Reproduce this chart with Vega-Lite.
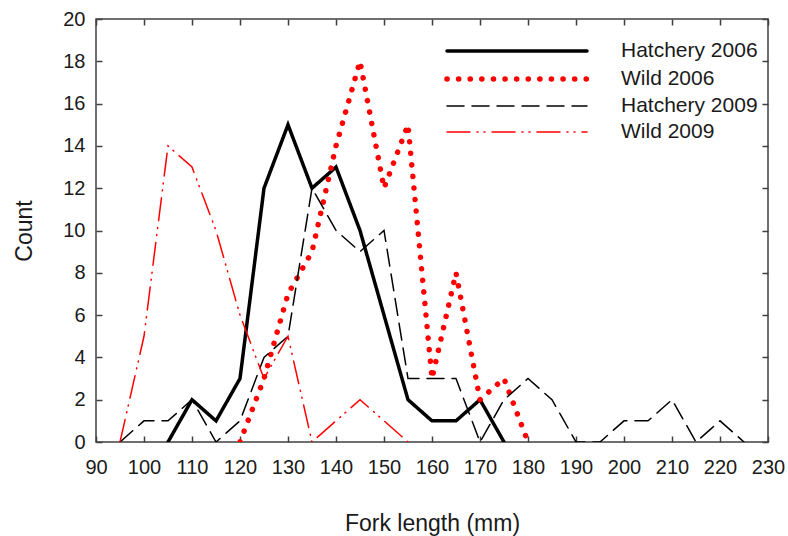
{
  "$schema": "https://vega.github.io/schema/vega-lite/v6.json",
  "width": 672,
  "height": 423,
  "autosize": {"type": "none"},
  "padding": {"left": 96, "top": 19, "right": 20, "bottom": 94},
  "background": "white",
  "config": {
    "view": {"stroke": "#404040", "strokeWidth": 1.5},
    "font": "Liberation Sans",
    "axis": {
      "domain": false,
      "grid": false,
      "tickSize": -6,
      "tickWidth": 1.5,
      "tickColor": "#404040",
      "labelOverlap": false,
      "labelFlush": false,
      "labelFont": "Liberation Sans",
      "labelFontSize": 20,
      "labelColor": "#1a1a1a",
      "titleFont": "Liberation Sans",
      "titleFontSize": 23,
      "titleFontWeight": "normal",
      "titleColor": "#1a1a1a"
    }
  },
  "data": {
    "values": [
      {"series": "Hatchery 2006", "x": 105, "y": 0},
      {"series": "Hatchery 2006", "x": 110, "y": 2},
      {"series": "Hatchery 2006", "x": 115, "y": 1},
      {"series": "Hatchery 2006", "x": 120, "y": 3},
      {"series": "Hatchery 2006", "x": 125, "y": 12},
      {"series": "Hatchery 2006", "x": 130, "y": 15},
      {"series": "Hatchery 2006", "x": 135, "y": 12},
      {"series": "Hatchery 2006", "x": 140, "y": 13},
      {"series": "Hatchery 2006", "x": 145, "y": 10},
      {"series": "Hatchery 2006", "x": 150, "y": 6},
      {"series": "Hatchery 2006", "x": 155, "y": 2},
      {"series": "Hatchery 2006", "x": 160, "y": 1},
      {"series": "Hatchery 2006", "x": 165, "y": 1},
      {"series": "Hatchery 2006", "x": 170, "y": 2},
      {"series": "Hatchery 2006", "x": 175, "y": 0},
      {"series": "Wild 2006", "x": 120, "y": 0},
      {"series": "Wild 2006", "x": 125, "y": 3},
      {"series": "Wild 2006", "x": 130, "y": 7},
      {"series": "Wild 2006", "x": 135, "y": 9},
      {"series": "Wild 2006", "x": 140, "y": 14},
      {"series": "Wild 2006", "x": 145, "y": 18},
      {"series": "Wild 2006", "x": 150, "y": 12},
      {"series": "Wild 2006", "x": 155, "y": 15},
      {"series": "Wild 2006", "x": 160, "y": 3},
      {"series": "Wild 2006", "x": 165, "y": 8},
      {"series": "Wild 2006", "x": 170, "y": 2},
      {"series": "Wild 2006", "x": 175, "y": 3},
      {"series": "Wild 2006", "x": 180, "y": 0},
      {"series": "Hatchery 2009", "x": 95, "y": 0},
      {"series": "Hatchery 2009", "x": 100, "y": 1},
      {"series": "Hatchery 2009", "x": 105, "y": 1},
      {"series": "Hatchery 2009", "x": 110, "y": 2},
      {"series": "Hatchery 2009", "x": 115, "y": 0},
      {"series": "Hatchery 2009", "x": 120, "y": 1},
      {"series": "Hatchery 2009", "x": 125, "y": 4},
      {"series": "Hatchery 2009", "x": 130, "y": 5},
      {"series": "Hatchery 2009", "x": 135, "y": 12},
      {"series": "Hatchery 2009", "x": 140, "y": 10},
      {"series": "Hatchery 2009", "x": 145, "y": 9},
      {"series": "Hatchery 2009", "x": 150, "y": 10},
      {"series": "Hatchery 2009", "x": 155, "y": 3},
      {"series": "Hatchery 2009", "x": 160, "y": 3},
      {"series": "Hatchery 2009", "x": 165, "y": 3},
      {"series": "Hatchery 2009", "x": 170, "y": 0},
      {"series": "Hatchery 2009", "x": 175, "y": 2},
      {"series": "Hatchery 2009", "x": 180, "y": 3},
      {"series": "Hatchery 2009", "x": 185, "y": 2},
      {"series": "Hatchery 2009", "x": 190, "y": 0},
      {"series": "Hatchery 2009", "x": 195, "y": 0},
      {"series": "Hatchery 2009", "x": 200, "y": 1},
      {"series": "Hatchery 2009", "x": 205, "y": 1},
      {"series": "Hatchery 2009", "x": 210, "y": 2},
      {"series": "Hatchery 2009", "x": 215, "y": 0},
      {"series": "Hatchery 2009", "x": 220, "y": 1},
      {"series": "Hatchery 2009", "x": 225, "y": 0},
      {"series": "Wild 2009", "x": 95, "y": 0},
      {"series": "Wild 2009", "x": 100, "y": 5},
      {"series": "Wild 2009", "x": 105, "y": 14},
      {"series": "Wild 2009", "x": 110, "y": 13},
      {"series": "Wild 2009", "x": 115, "y": 10},
      {"series": "Wild 2009", "x": 120, "y": 6},
      {"series": "Wild 2009", "x": 125, "y": 3},
      {"series": "Wild 2009", "x": 130, "y": 5},
      {"series": "Wild 2009", "x": 135, "y": 0},
      {"series": "Wild 2009", "x": 140, "y": 1},
      {"series": "Wild 2009", "x": 145, "y": 2},
      {"series": "Wild 2009", "x": 150, "y": 1},
      {"series": "Wild 2009", "x": 155, "y": 0}
    ]
  },
  "layer": [
    {
      "mark": {"type": "line", "strokeCap": "round", "strokeJoin": "miter", "clip": true},
      "encoding": {
        "x": {
          "field": "x", "type": "quantitative",
          "scale": {"domain": [90, 230], "nice": false, "zero": false},
          "axis": {"orient": "bottom", "values": [90,100,110,120,130,140,150,160,170,180,190,200,210,220,230], "labelPadding": 21, "title": "Fork length (mm)", "titlePadding": 35}
        },
        "y": {
          "field": "y", "type": "quantitative",
          "scale": {"domain": [0, 20], "nice": false},
          "axis": {"orient": "left", "values": [0,2,4,6,8,10,12,14,16,18,20], "labelPadding": 17, "title": "Count", "titlePadding": 26}
        },
        "color": {
          "field": "series", "type": "nominal",
          "scale": {"domain": ["Hatchery 2006", "Wild 2006", "Hatchery 2009", "Wild 2009"], "range": ["#000000", "#ff0000", "#000000", "#ff0000"]},
          "legend": {
            "title": null,
            "orient": "none",
            "legendX": 348,
            "legendY": 20,
            "padding": 0,
            "symbolType": "M-1,0H13",
            "symbolSize": 400,
            "labelFont": "Liberation Sans",
            "labelFontSize": 21,
            "labelColor": "#1a1a1a",
            "labelOffset": 151,
            "rowPadding": 5,
            "encode": {"symbols": {"update": {"strokeCap": {"value": "round"}}}}
          }
        },
        "strokeDash": {
          "field": "series", "type": "nominal",
          "scale": {"domain": ["Hatchery 2006", "Wild 2006", "Hatchery 2009", "Wild 2009"], "range": [[1, 0], [0.1, 11.5], [17, 8], [23, 7, 1, 6, 1, 7]]},
          "legend": {"title": null}
        },
        "strokeWidth": {
          "field": "series", "type": "nominal",
          "scale": {"type": "ordinal", "domain": ["Hatchery 2006", "Wild 2006", "Hatchery 2009", "Wild 2009"], "range": [3.5, 5.5, 1.5, 1.5]},
          "legend": {"title": null}
        },
        "order": {"field": "x", "type": "quantitative"}
      }
    },
    {
      "mark": {"type": "point", "opacity": 0},
      "encoding": {
        "x": {
          "field": "x", "type": "quantitative",
          "axis": {"orient": "top", "values": [90,100,110,120,130,140,150,160,170,180,190,200,210,220,230], "labels": false, "title": null}
        },
        "y": {
          "field": "y", "type": "quantitative",
          "axis": {"orient": "right", "values": [0,2,4,6,8,10,12,14,16,18,20], "labels": false, "title": null}
        }
      }
    }
  ],
  "resolve": {"axis": {"x": "independent", "y": "independent"}}
}
